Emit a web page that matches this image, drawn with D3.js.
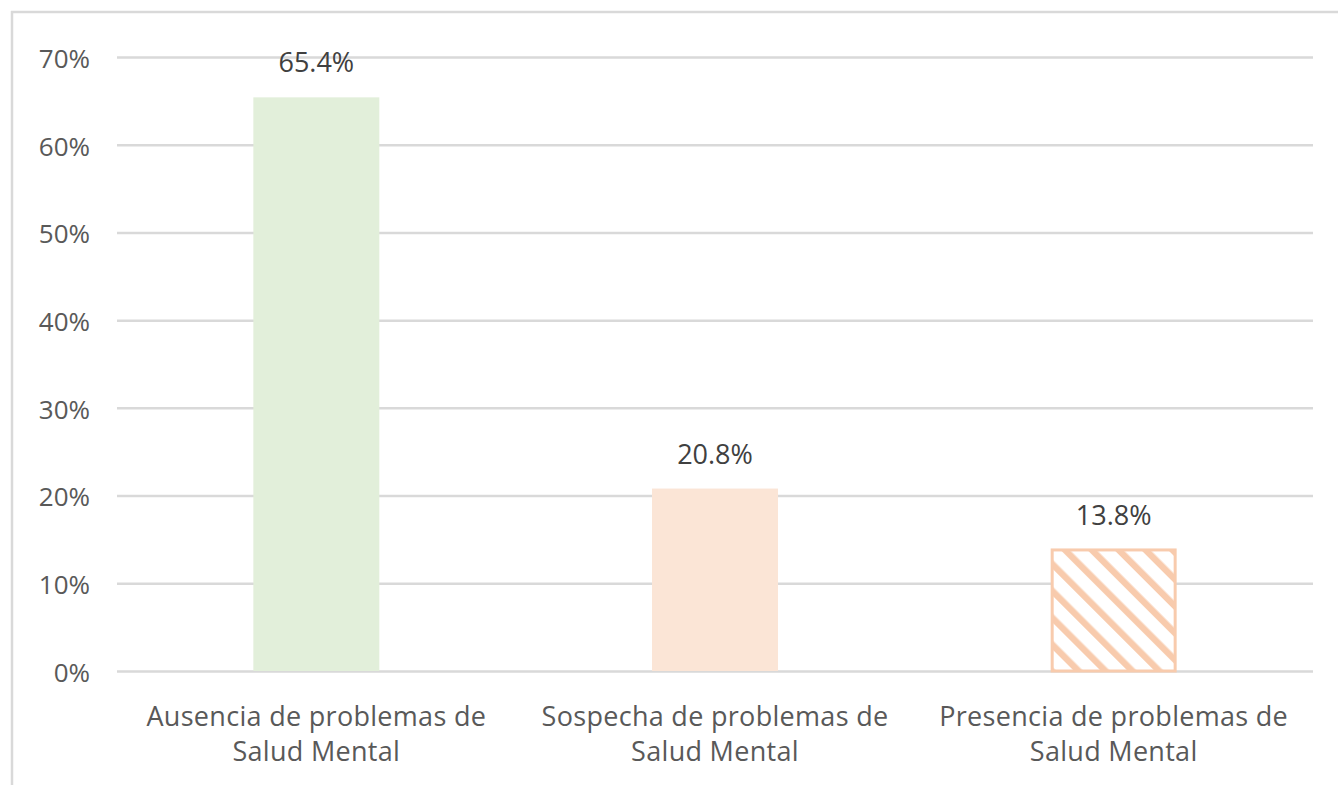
<!DOCTYPE html>
<html>
<head>
<meta charset="utf-8">
<script src="https://cdn.jsdelivr.net/npm/d3@7"></script>
<style>
  body { margin: 0; background: #fff; }
  text { font-family: "Open Sans", sans-serif; }
</style>
</head>
<body>
<svg id="chart"></svg>
<script>
// size
const width = 1338;
const height = 785;

// data
const categories = [
    ["Ausencia de problemas de", "Salud Mental"],
    ["Sospecha de problemas de", "Salud Mental"],
    ["Presencia de problemas de", "Salud Mental"]
];
const values = [0.654, 0.208, 0.138];
const valueLabels = ["65.4%", "20.8%", "13.8%"];
const yTicks = [0, 0.1, 0.2, 0.3, 0.4, 0.5, 0.6, 0.7];

const fills = ["#e2efda", "#fbe5d6", "url(#hatch)"];

// plot area
const plotLeft = 117, plotRight = 1313, plotTop = 57, plotBottom = 671;

const svg = d3.select("#chart")
    .attr("width", width)
    .attr("height", height);

// hatch pattern for the last bar
const defs = svg.append("defs");
const pat = defs.append("pattern")
    .attr("id", "hatch")
    .attr("patternUnits", "userSpaceOnUse")
    .attr("width", 19)
    .attr("height", 19)
    .attr("patternTransform", "rotate(-45)");
pat.append("rect")
    .attr("width", 19).attr("height", 19).attr("fill", "#fff");
pat.append("rect")
    .attr("x", 0).attr("width", 6.5).attr("height", 19)
    .attr("fill", "#f8cbad");

// outer frame (only top and left visible)
svg.append("line")
    .attr("x1", 11).attr("x2", width).attr("y1", 12).attr("y2", 12)
    .attr("stroke", "#d9d9d9").attr("stroke-width", 2.5);
svg.append("line")
    .attr("x1", 12).attr("x2", 12).attr("y1", 11).attr("y2", height)
    .attr("stroke", "#d9d9d9").attr("stroke-width", 2.5);

// scales
const x = d3.scaleBand()
    .domain(d3.range(categories.length))
    .range([plotLeft, plotRight])
    .paddingInner(0.684)
    .paddingOuter(0.342);
const y = d3.scaleLinear()
    .domain([0, 0.7])
    .range([plotBottom, plotTop]);

// grid + y axis
const yAxis = d3.axisLeft(y)
    .tickValues(yTicks)
    .tickSize(-(plotRight - plotLeft))
    .tickPadding(27)
    .tickFormat(d3.format(".0%"));
const gy = svg.append("g")
    .attr("transform", `translate(${plotLeft},0)`)
    .call(yAxis);
gy.select(".domain").remove();
gy.selectAll(".tick line")
    .attr("stroke", "#d9d9d9")
    .attr("stroke-width", 2.5);
gy.selectAll(".tick text")
    .attr("fill", "#595959")
    .attr("dy", "0.4em")
    .style("font-size", "26px");

// bars
svg.append("g")
    .selectAll("rect")
    .data(values)
    .join("rect")
    .attr("x", (d, i) => x(i) + (i === 2 ? 1.5 : 0))
    .attr("y", d => y(d))
    .attr("width", (d, i) => x.bandwidth() - (i === 2 ? 3 : 0))
    .attr("height", d => y(0) - y(d))
    .attr("fill", (d, i) => fills[i])
    .attr("stroke", (d, i) => i === 2 ? "#f8cbad" : "none")
    .attr("stroke-width", 3);

// value labels
svg.append("g")
    .selectAll("text")
    .data(values)
    .join("text")
    .attr("x", (d, i) => x(i) + x.bandwidth() / 2)
    .attr("y", d => y(d) - 25)
    .attr("text-anchor", "middle")
    .attr("fill", "#404040")
    .style("font-size", "27px")
    .text((d, i) => valueLabels[i]);

// category labels
const cat = svg.append("g")
    .selectAll("text")
    .data(categories)
    .join("text")
    .attr("x", (d, i) => x(i) + x.bandwidth() / 2)
    .attr("y", 726)
    .attr("text-anchor", "middle")
    .attr("fill", "#595959")
    .style("font-size", "27px")
    .style("letter-spacing", "0.3px");
cat.selectAll("tspan")
    .data(d => d)
    .join("tspan")
    .attr("x", function() { return d3.select(this.parentNode).attr("x"); })
    .attr("dy", (d, j) => j === 0 ? 0 : 35)
    .text(d => d);
</script>
</body>
</html>
